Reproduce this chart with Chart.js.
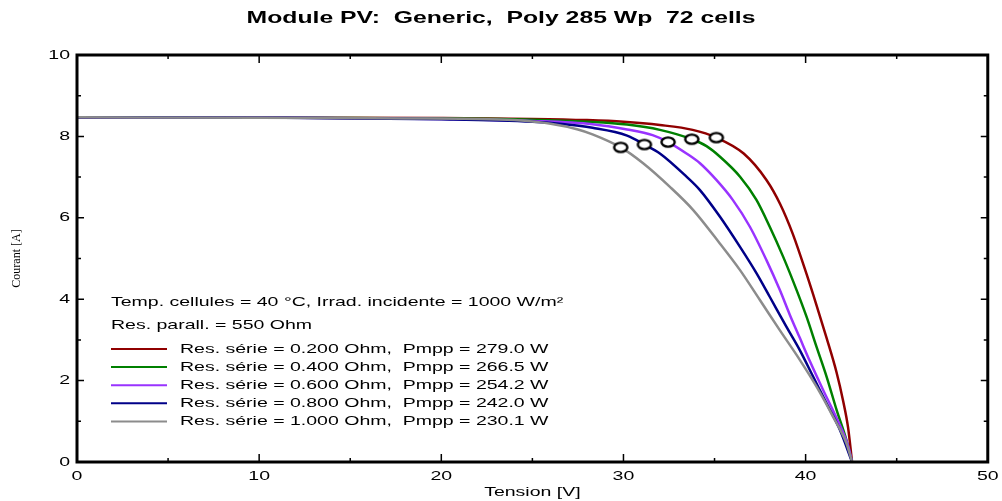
<!DOCTYPE html>
<html lang="fr">
<head>
<meta charset="UTF-8">
<title>Module PV: Generic, Poly 285 Wp 72 cells</title>
<script src="https://cdn.jsdelivr.net/npm/chart.js"></script>
<style>
  body { margin: 0; background: #fff; }
  canvas { display: block; }
</style>
</head>
<body>
<canvas id="ivChart" width="1002" height="501"></canvas>
<script>
// I/V curves of the module for 5 series resistances
const rSerie = [0.200, 0.400, 0.600, 0.800, 1.000];
const pmpp = [279.0, 266.5, 254.2, 242.0, 230.1];

const voltR02 = [0, 10, 20, 25, 28, 30, 32, 33.8, 35.1, 36.6, 37.85, 38.6, 39.3, 40.05, 40.6, 41.15, 41.7, 42.06, 42.33, 42.55];
const currR02 = [8.47, 8.46, 8.45, 8.43, 8.40, 8.36, 8.28, 8.16, 7.97, 7.58, 6.93, 6.34, 5.60, 4.62, 3.85, 3.05, 2.20, 1.50, 0.85, 0];

const voltR04 = [0, 10, 20, 25, 28, 30.2, 32, 33.75, 34.56, 35.3, 36.4, 37.3, 38.03, 38.77, 39.5, 40.05, 40.6, 41.15, 41.7, 42.24, 42.55];
const currR04 = [8.47, 8.46, 8.44, 8.41, 8.36, 8.29, 8.16, 7.93, 7.76, 7.50, 7.01, 6.44, 5.78, 5.04, 4.23, 3.57, 2.83, 2.10, 1.28, 0.54, 0];

const voltR06 = [0, 10, 20, 25, 28.3, 30.2, 31.6, 32.45, 33.46, 34.2, 35.1, 36.0, 36.94, 37.85, 38.58, 39.13, 39.68, 40.23, 40.96, 41.7, 42.33, 42.55];
const currR06 = [8.47, 8.46, 8.43, 8.38, 8.30, 8.17, 8.03, 7.86, 7.58, 7.34, 6.93, 6.44, 5.78, 4.96, 4.23, 3.62, 3.05, 2.48, 1.77, 1.08, 0.40, 0];

const voltR08 = [0, 10, 20, 25, 26.5, 28.3, 30.2, 31.15, 32.0, 33.46, 34.2, 35.29, 36.39, 37.3, 38.03, 38.95, 39.68, 40.41, 41.15, 41.88, 42.55];
const currR08 = [8.47, 8.46, 8.42, 8.36, 8.31, 8.21, 8.02, 7.80, 7.58, 7.01, 6.68, 6.03, 5.29, 4.64, 4.06, 3.32, 2.75, 2.10, 1.44, 0.79, 0];

const voltR10 = [0, 10, 18, 22, 24, 26, 27.5, 28.3, 29.85, 31.08, 32.55, 33.83, 35.29, 36.39, 37.49, 38.58, 39.68, 40.6, 41.51, 42.24, 42.55];
const currR10 = [8.47, 8.46, 8.44, 8.43, 8.40, 8.31, 8.17, 8.05, 7.73, 7.34, 6.76, 6.19, 5.37, 4.72, 3.98, 3.24, 2.51, 1.85, 1.11, 0.46, 0];

// maximum power points, same order as rSerie
const mppVolt = [35.1, 33.75, 32.45, 31.15, 29.85];
const mppCurr = [7.97, 7.93, 7.86, 7.80, 7.73];

const chartTitle = 'Module PV:  Generic,  Poly 285 Wp  72 cells';
const infoLines = ['Temp. cellules = 40 °C, Irrad. incidente = 1000 W/m²', 'Res. parall. = 550 Ohm'];

const colors = ['#900000', '#008000', '#9933ff', '#000088', '#8c8c8c'];
const volts = [voltR02, voltR04, voltR06, voltR08, voltR10];
const currs = [currR02, currR04, currR06, currR08, currR10];
const labels = rSerie.map((r, i) => 'Res. série = ' + r.toFixed(3) + ' Ohm,  Pmpp = ' + pmpp[i].toFixed(1) + ' W');

// the original screenshot is stretched sideways, so is its text
const STRETCH = 1.5;

// hollow ellipse used as MPP marker
const mppMark = document.createElement('canvas');
mppMark.width = 18;
mppMark.height = 14;
(function () {
  const c = mppMark.getContext('2d');
  c.beginPath();
  c.ellipse(9, 7, 6.6, 4.6, 0, 0, Math.PI * 2);
  c.fillStyle = '#fff';
  c.fill();
  c.lineWidth = 2.4;
  c.strokeStyle = '#000';
  c.stroke();
})();

const wideText = {
  id: 'wideText',
  beforeInit(chart) {
    const ctx = chart.ctx;
    const fill = ctx.fillText.bind(ctx);
    ctx.fillText = function (text, x, y) {
      const m = ctx.getTransform();
      if (m.b !== 0 || m.c !== 0) { fill(text, x, y); return; }
      ctx.save();
      ctx.translate(x, y);
      ctx.scale(STRETCH, 1);
      fill(text, 0, 0);
      ctx.restore();
    };
  }
};

// box frame with inward ticks on all four sides
const frame = {
  id: 'frame',
  afterDatasetsDraw(chart) {
    const { ctx, chartArea: a, scales: { x, y } } = chart;
    ctx.save();
    ctx.strokeStyle = '#000';
    ctx.lineWidth = 1.5;
    ctx.beginPath();
    for (let v = 0; v <= 50; v += 5) {
      const px = x.getPixelForValue(v);
      const len = v % 10 === 0 ? 8 : 4;
      ctx.moveTo(px, a.bottom); ctx.lineTo(px, a.bottom - len);
      ctx.moveTo(px, a.top); ctx.lineTo(px, a.top + len);
    }
    for (let v = 0; v <= 10; v += 1) {
      const py = y.getPixelForValue(v);
      const len = v % 2 === 0 ? 7 : 4;
      ctx.moveTo(a.left, py); ctx.lineTo(a.left + len, py);
      ctx.moveTo(a.right, py); ctx.lineTo(a.right - len, py);
    }
    ctx.stroke();
    ctx.lineWidth = 3;
    ctx.strokeRect(a.left, a.top, a.right - a.left, a.bottom - a.top);
    ctx.restore();
  }
};

// conditions text + series legend inside the plot
const infoBox = {
  id: 'infoBox',
  afterDraw(chart) {
    const { ctx, chartArea: a } = chart;
    const x0 = a.left + 34;
    ctx.save();
    ctx.font = '13px Arial';
    ctx.fillStyle = '#000';
    ctx.textAlign = 'left';
    ctx.textBaseline = 'middle';
    ctx.fillText(infoLines[0], x0, a.top + 247);
    ctx.fillText(infoLines[1], x0, a.top + 270);
    labels.forEach((txt, i) => {
      const yy = a.top + 294 + i * 18.1;
      ctx.strokeStyle = colors[i];
      ctx.lineWidth = 2;
      ctx.beginPath();
      ctx.moveTo(x0, yy);
      ctx.lineTo(x0 + 56, yy);
      ctx.stroke();
      ctx.fillText(txt, x0 + 69, yy);
    });
    ctx.restore();
  }
};

Chart.defaults.font.family = 'Arial';
Chart.defaults.color = '#000';

const datasets = [{
  label: 'MPP',
  data: mppVolt.map((v, i) => ({ x: v, y: mppCurr[i] })),
  showLine: false,
  pointStyle: mppMark,
  pointRadius: 6,
  order: 0
}];
labels.forEach((lab, i) => {
  datasets.push({
    label: lab,
    data: volts[i].map((v, k) => ({ x: v, y: currs[i][k] })),
    showLine: true,
    borderColor: colors[i],
    borderWidth: 2.5,
    pointRadius: 0,
    fill: false,
    cubicInterpolationMode: 'monotone',
    order: 5 - i
  });
});

new Chart(document.getElementById('ivChart'), {
  type: 'scatter',
  data: { datasets },
  options: {
    responsive: false,
    animation: false,
    layout: { padding: 0 },
    plugins: {
      legend: { display: false },
      tooltip: { enabled: false },
      title: {
        display: true,
        text: chartTitle,
        font: { size: 16.5, weight: 'bold' },
        color: '#000',
        padding: { top: 9, bottom: 26.2 }
      }
    },
    scales: {
      x: {
        type: 'linear', min: 0, max: 50,
        grid: { display: false, drawTicks: false },
        border: { display: false },
        ticks: { stepSize: 10, padding: 7, font: { size: 13 } },
        title: { display: true, text: 'Tension [V]', font: { size: 13 }, padding: { top: 0, bottom: 1 } },
        afterFit(s) { s.height = 39; }
      },
      y: {
        type: 'linear', min: 0, max: 10,
        grid: { display: false, drawTicks: false },
        border: { display: false },
        ticks: { stepSize: 2, padding: 7, font: { size: 13 } },
        title: { display: true, text: 'Courant [A]', font: { family: 'Liberation Serif', size: 12 }, padding: { top: 10, bottom: 0 } },
        afterFit(s) { s.width = 77; }
      },
      y2: {
        type: 'linear', position: 'right',
        grid: { display: false, drawTicks: false },
        border: { display: false },
        ticks: { display: false },
        afterFit(s) { s.width = 14; }
      }
    }
  },
  plugins: [wideText, frame, infoBox]
});
</script>
</body>
</html>
